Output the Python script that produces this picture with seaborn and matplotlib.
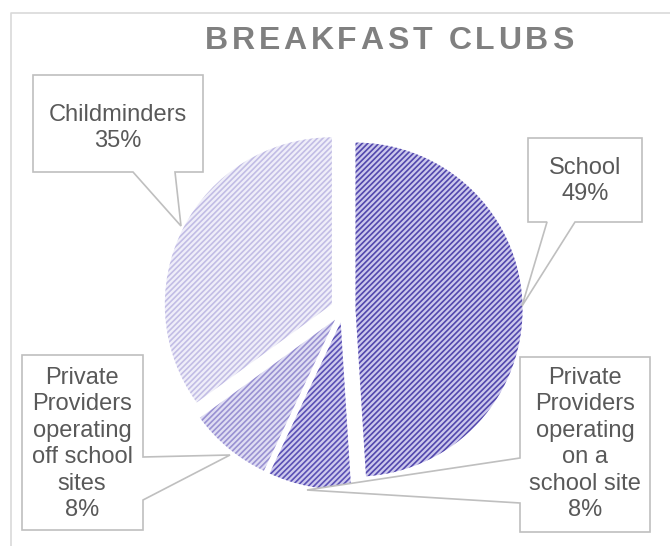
import matplotlib
matplotlib.use("Agg")
import matplotlib.pyplot as plt
import seaborn as sns
from matplotlib.patches import Polygon

# data
categories = ["School", "Private Providers operating on a school site",
              "Private Providers operating off school sites", "Childminders"]
shares = [49, 8, 8, 35]
label_text = ["School\n49%",
              "Private\nProviders\noperating\non a\nschool site\n8%",
              "Private\nProviders\noperating\noff school\nsites\n8%",
              "Childminders\n35%"]
title_text = "BREAKFAST CLUBS"

# styling
face_colors = ["#ccc8ec", "#cecaed", "#dfddf3", "#efeef9"]
hatch_colors = ["#5247ad", "#5a50b5", "#9991d2", "#c2bde5"]
explode = [0.075, 0.075, 0.075, 0.075]

sns.set_style("white")
plt.rcParams["font.family"] = ["Liberation Sans", "DejaVu Sans"]
plt.rcParams["hatch.linewidth"] = 1.2

W, H = 670, 546
cx, cy, R = 343, 310, 167  # pie centre and radius in pixels (from top-left)


def px(x, y):
    return ((x - cx) / R, (cy - y) / R)


fig = plt.figure(figsize=(W / 100, H / 100), dpi=100)
ax = fig.add_axes([0, 0, 1, 1])

wedges, _ = ax.pie(shares, startangle=90, counterclock=False, explode=explode,
                   radius=1, wedgeprops=dict(linewidth=0))
for w, fc, hc in zip(wedges, face_colors, hatch_colors):
    w.set_facecolor(fc)
    w.set_edgecolor(hc)
    w.set_hatch("//////")
    w.set_linewidth(0)

ax.set_aspect("auto")
ax.set_xlim(-cx / R, (W - cx) / R)
ax.set_ylim(-(H - cy) / R, cy / R)
ax.axis("off")

# chart border
ax.plot(*zip(px(11, 560), px(11, 13), px(680, 13)), color="#d9d9d9", lw=1.2,
        clip_on=False)

# callouts: outline (box + pointer) and text centre, in pixels
callouts = [
    ([(528, 138), (642, 138), (642, 222), (575, 222), (522, 306), (547, 222), (528, 222)],
     (585, 181)),
    ([(520, 357), (650, 357), (650, 532), (520, 532), (520, 503), (307, 490), (520, 458)],
     (585, 444)),
    ([(22, 355), (143, 355), (143, 457), (230, 455), (143, 500), (143, 530), (22, 530)],
     (82, 444)),
    ([(33, 75), (203, 75), (203, 172), (175, 172), (181, 226), (133, 172), (33, 172)],
     (118, 128)),
]
for (outline, centre), txt in zip(callouts, label_text):
    ax.add_patch(Polygon([px(*p) for p in outline], closed=True, facecolor="white",
                         edgecolor="#bfbfbf", lw=1.2, zorder=3))
    ax.text(*px(*centre), txt, ha="center", va="center", fontsize=17,
            color="#595959", linespacing=1.27, zorder=4)

# title with letter spacing
renderer = fig.canvas.get_renderer()
chars = []
widths = []
for ch in title_text:
    t = ax.text(0, 0, ch if ch != " " else "", fontsize=23, fontweight="bold",
                color="#808080", ha="left", va="center", transform=None)
    chars.append(t)
    widths.append(t.get_window_extent(renderer).width if ch != " " else 23 * 0.278 / 0.72)
target = 368
gap = (target - sum(widths)) / (len(title_text) - 1)
x = 389 - target / 2
for t, w in zip(chars, widths):
    t.set_position((x, H - 41))
    x += w + gap

fig.savefig("out.png", dpi=100)
